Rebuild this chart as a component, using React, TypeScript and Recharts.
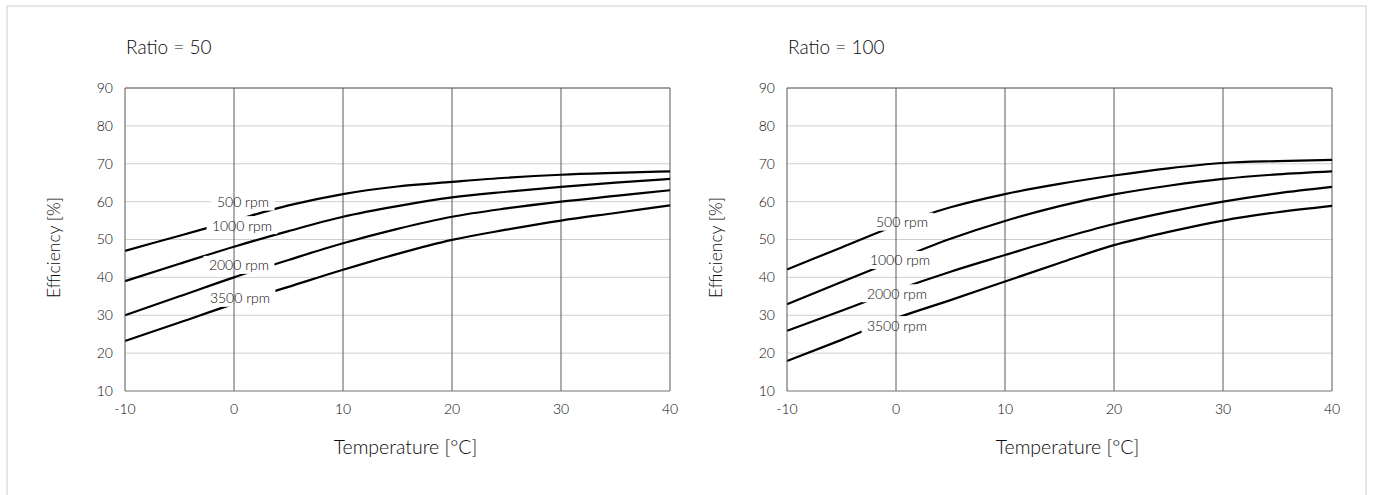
import React from "react";
import {
  LineChart,
  Line,
  XAxis,
  YAxis,
  CartesianGrid,
  ReferenceDot,
  ReferenceLine,
  Label,
} from "recharts";

const temps = [-10, -5, 0, 5, 10, 15, 20, 25, 30, 35, 40];
const xTicks = [-10, 0, 10, 20, 30, 40];
const yTicks = [10, 20, 30, 40, 50, 60, 70, 80, 90];
const speeds = ["500 rpm", "1000 rpm", "2000 rpm", "3500 rpm"];

// Ratio = 50
const r50_500 = [47, 51, 55, 59, 62, 64, 65.2, 66.3, 67.1, 67.6, 68];
const r50_1000 = [39, 43.6, 48.1, 52.2, 56, 58.8, 61.1, 62.6, 63.9, 65, 66];
const r50_2000 = [30, 35, 40, 44.6, 49, 52.8, 56, 58.2, 60, 61.5, 63];
const r50_3500 = [23.2, 28.1, 33, 37.5, 42, 46.2, 49.9, 52.6, 55, 57, 59];

// Ratio = 100
const r100_500 = [42.1, 47.9, 53.7, 58.5, 62, 64.7, 66.9, 68.8, 70.2, 70.7, 71];
const r100_1000 = [32.9, 38.8, 44.6, 50.2, 54.9, 58.8, 61.9, 64.2, 66, 67.2, 68];
const r100_2000 = [25.9, 31.2, 36.6, 41.5, 45.9, 50.2, 54.1, 57.3, 60, 62.2, 63.9];
const r100_3500 = [17.9, 23.5, 29.2, 34, 38.9, 43.8, 48.5, 52, 55, 57.2, 58.9];

// rpm tags sit on the 0 °C gridline, at these efficiency levels
const LABEL_T = 0;
const r50_labelE = [60, 53.8, 43.3, 34.6];
const r100_labelE = [54.7, 44.6, 35.8, 27.4];
// small horizontal nudge of each tag (px)
const r50_labelDx = [9, 8, 5, 6];
const r100_labelDx = [6, 4, 1, 1];

const FONT = "Lato, 'Noto Sans', sans-serif";
const TEXT = "#0a0a0a";
const WEIGHT = 300;

function RpmTag({ cx, cy, dx, text }: any) {
  const w = text.length * 7.6 + 10;
  const mid = cx + dx;
  return (
    <g>
      <rect x={mid - w / 2} y={cy - 9} width={w} height={18} fill="#fff" />
      <line x1={cx} x2={cx} y1={cy - 9} y2={cy + 9} stroke="#5a5a5a" strokeWidth={1} />
      <text
        x={mid}
        y={cy}
        textAnchor="middle"
        dominantBaseline="central"
        fontFamily={FONT}
        fontWeight={WEIGHT}
        fontSize={14}
        fill={TEXT}
      >
        {text}
      </text>
    </g>
  );
}

function RatioChart({ title, series, labelE, labelDx, left }: any) {
  const data = temps.map((t, i) => ({
    t,
    s0: series[0][i],
    s1: series[1][i],
    s2: series[2][i],
    s3: series[3][i],
  }));

  return (
    <div style={{ position: "absolute", left, top: 0, width: 700, height: 480 }}>
      <div
        style={{
          position: "absolute",
          left: 126,
          top: 37,
          fontFamily: FONT,
          fontWeight: WEIGHT,
          fontSize: 19,
          lineHeight: "20px",
          color: TEXT,
        }}
      >
        {title}
      </div>
      <LineChart
        width={700}
        height={480}
        data={data}
        margin={{ top: 88, right: 30, bottom: 0, left: 0 }}
      >
        <CartesianGrid vertical={false} stroke="#cfcfcf" />
        <XAxis
          dataKey="t"
          type="number"
          domain={[-10, 40]}
          ticks={xTicks}
          interval={0}
          height={89}
          tickSize={0}
          tickMargin={13}
          axisLine={{ stroke: "#888" }}
          tickLine={false}
          tick={{ fill: TEXT, fontSize: 14, fontFamily: FONT, fontWeight: WEIGHT }}
        >
          <Label
            content={({ viewBox }: any) => (
              <text
                x={viewBox.x + viewBox.width / 2 + 8}
                y={viewBox.y + 55}
                textAnchor="middle"
                dominantBaseline="central"
                fontFamily={FONT}
                fontWeight={WEIGHT}
                fontSize={19.5}
                fill={TEXT}
              >
                Temperature [°C]
              </text>
            )}
          />
        </XAxis>
        <YAxis
          type="number"
          domain={[10, 90]}
          ticks={yTicks}
          interval={0}
          width={125}
          tickSize={0}
          tickMargin={12}
          axisLine={{ stroke: "#555" }}
          tickLine={false}
          tick={{ fill: TEXT, fontSize: 14, fontFamily: FONT, fontWeight: WEIGHT }}
        >
          <Label
            content={({ viewBox }: any) => {
              const x = viewBox.x + 53;
              const y = viewBox.y + viewBox.height / 2 + 8;
              return (
                <text
                  x={x}
                  y={y}
                  transform={`rotate(-90, ${x}, ${y})`}
                  textAnchor="middle"
                  dominantBaseline="central"
                  fontFamily={FONT}
                  fontWeight={WEIGHT}
                  fontSize={17.5}
                  fill={TEXT}
                >
                  Efficiency [%]
                </text>
              );
            }}
          />
        </YAxis>
        {xTicks.slice(1).map((t) => (
          <ReferenceLine key={t} x={t} stroke="#5a5a5a" strokeWidth={1} />
        ))}
        <ReferenceLine y={90} stroke="#5a5a5a" strokeWidth={1} />
        {["s0", "s1", "s2", "s3"].map((k) => (
          <Line
            key={k}
            dataKey={k}
            type="monotone"
            stroke="#000"
            strokeWidth={2.2}
            dot={false}
            activeDot={false}
            isAnimationActive={false}
          />
        ))}
        {speeds.map((s, i) => (
          <ReferenceDot
            key={s}
            x={LABEL_T}
            y={labelE[i]}
            r={0}
            shape={(p: any) => (
              <RpmTag cx={p.cx} cy={p.cy} dx={labelDx[i]} text={s} />
            )}
          />
        ))}
      </LineChart>
    </div>
  );
}

export default function App() {
  return (
    <div
      style={{
        position: "absolute",
        left: 0,
        top: 0,
        width: 1373,
        height: 495,
        overflow: "hidden",
        background: "#fff",
      }}
    >
      <div
        style={{
          position: "absolute",
          left: 6,
          top: 5,
          width: 1361,
          height: 520,
          border: "2px solid #e6e6e6",
          boxSizing: "border-box",
        }}
      />
      <RatioChart
        title="Ratio = 50"
        series={[r50_500, r50_1000, r50_2000, r50_3500]}
        labelE={r50_labelE}
        labelDx={r50_labelDx}
        left={0}
      />
      <RatioChart
        title="Ratio = 100"
        series={[r100_500, r100_1000, r100_2000, r100_3500]}
        labelE={r100_labelE}
        labelDx={r100_labelDx}
        left={662}
      />
    </div>
  );
}
